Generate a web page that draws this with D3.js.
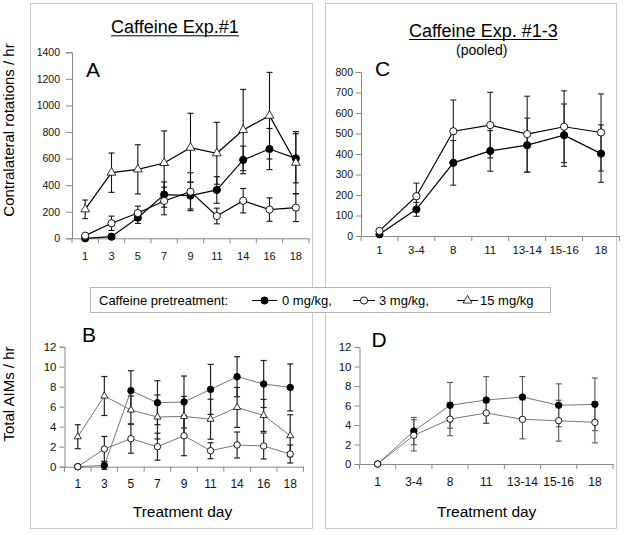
<!DOCTYPE html>
<html><head><meta charset="utf-8">
<script src="https://cdn.jsdelivr.net/npm/d3@7/dist/d3.min.js"></script>
<style>
html,body{margin:0;padding:0;background:#fff;}
svg{display:block;font-family:"Liberation Sans",Arial,sans-serif;}
</style></head>
<body>
<svg id="chart" width="624" height="535"></svg>
<script>
// ---------- data ----------
const daysA = ["1","3","5","7","9","11","14","16","18"];
const daysC = ["1","3-4","8","11","13-14","15-16","18"];

// Panel A: contralateral rotations / hr (Exp #1)
const A_0mg   = [0, 12, 155, 329, 321, 364, 590, 672, 602];
const A_0err  = [0, 8, 43, 95, 100, 100, 104, 155, 185];
const A_3mg   = [20, 113, 190, 281, 351, 168, 283, 216, 231];
const A_3err  = [8, 54, 52, 104, 143, 59, 92, 88, 105];
const A_15mg  = [218, 494, 519, 567, 682, 640, 815, 923, 569];
const A_15err = [70, 148, 185, 241, 259, 233, 306, 326, 234];

// Panel B: total AIMs / hr (Exp #1)
const B_0mg   = [0, 0.13, 7.6, 6.4, 6.47, 7.73, 9.0, 8.27, 7.93];
const B_0err  = [0, 0.4, 2.0, 2.2, 2.6, 2.5, 2.0, 2.35, 2.35];
const B_3mg   = [0, 1.77, 2.8, 2.0, 3.1, 1.6, 2.17, 2.07, 1.27];
const B_3err  = [0, 1.25, 1.45, 1.35, 2.0, 0.8, 1.3, 1.3, 0.9];
const B_15mg  = [3.0, 7.07, 5.67, 4.97, 5.03, 4.75, 5.93, 5.13, 3.1];
const B_15err = [1.2, 1.95, 1.4, 2.2, 2.0, 2.0, 2.0, 1.6, 2.1];

// Panel C: contralateral rotations / hr (pooled)
const C_0mg  = [8, 130, 357, 415, 443, 492, 402];
const C_0err = [5, 34, 109, 99, 132, 152, 140];
const C_3mg  = [25, 194, 511, 541, 497, 533, 505];
const C_3err = [10, 64, 152, 160, 185, 175, 188];

// Panel D: total AIMs / hr (pooled)
const D_0mg  = [0, 3.38, 6.02, 6.56, 6.87, 6.02, 6.12];
const D_0err = [0, 1.4, 2.35, 2.4, 2.1, 2.2, 2.7];
const D_3mg  = [0, 2.94, 4.6, 5.23, 4.58, 4.44, 4.27];
const D_3err = [0, 1.6, 1.7, 1.05, 2.0, 2.1, 2.1];

const ticksA = [0,200,400,600,800,1000,1200,1400];
const ticksC = [0,100,200,300,400,500,600,700,800];
const ticksB = [0,2,4,6,8,10,12];

const legendLabels = ["0 mg/kg,", "3 mg/kg,", "15 mg/kg"];

// ---------- drawing ----------
const svg = d3.select("#chart");
svg.append("rect").attr("width",624).attr("height",535).attr("fill","#fff");

// panel frames
svg.append("rect").attr("x",30.5).attr("y",3.5).attr("width",282).attr("height",525)
  .attr("fill","none").attr("stroke","#c8c8c8");
svg.append("rect").attr("x",325.5).attr("y",3.5).attr("width",291).attr("height",525)
  .attr("fill","none").attr("stroke","#c8c8c8");

function panel(cfg){
  const g = svg.append("g");
  const x = d3.scaleBand().domain(cfg.cats).range(cfg.xr).padding(0);
  const y = d3.scaleLinear().domain([0, cfg.ymax]).range(cfg.yr);
  // y axis
  const ya = g.append("g").attr("transform",`translate(${cfg.xr[0]},0)`)
    .call(d3.axisLeft(y).tickValues(cfg.yticks).tickSize(cfg.ytick).tickPadding(cfg.ypad).tickFormat(d3.format("d")));
  ya.select(".domain").attr("stroke","#888");
  ya.selectAll(".tick line").attr("stroke","#888");
  ya.selectAll("text").attr("font-size",cfg.yfs).attr("fill","#111")
    .attr("font-family","'Liberation Sans',Arial,sans-serif");
  // x axis
  const xa = g.append("g").attr("transform",`translate(0,${cfg.yr[0]})`)
    .call(d3.axisBottom(x).tickSize(0).tickPadding(cfg.xpad).tickSizeOuter(0));
  xa.select(".domain").attr("stroke","#888");
  xa.selectAll("text").attr("font-size",cfg.xfs).attr("fill","#111")
    .attr("font-family","'Liberation Sans',Arial,sans-serif");
  const bounds = cfg.cats.map(c=>x(c)).concat([x.range()[1]]);
  g.selectAll(".xt").data(bounds).enter().append("line")
    .attr("x1",d=>d).attr("x2",d=>d).attr("y1",cfg.yr[0]).attr("y2",cfg.yr[0]+5)
    .attr("stroke","#888");
  const cx = c => x(c) + x.bandwidth()/2;
  // series
  cfg.series.forEach(s=>{
    const pts = cfg.cats.map((c,i)=>({c, v:s.v[i], e:s.e[i]}));
    const eb = g.append("g").attr("stroke",cfg.errColor).attr("stroke-width",cfg.errW);
    pts.forEach(p=>{
      if(p.e<=0) return;
      const xx = cx(p.c);
      eb.append("line").attr("x1",xx).attr("x2",xx).attr("y1",y(p.v+p.e)).attr("y2",y(Math.max(0,p.v-p.e)));
      eb.append("line").attr("x1",xx-3).attr("x2",xx+3).attr("y1",y(p.v+p.e)).attr("y2",y(p.v+p.e));
      eb.append("line").attr("x1",xx-3).attr("x2",xx+3).attr("y1",y(p.v-p.e)).attr("y2",y(p.v-p.e));
    });
  });
  cfg.series.forEach(s=>{
    const pts = cfg.cats.map((c,i)=>({c, v:s.v[i]}));
    g.append("path").datum(pts)
      .attr("d", d3.line().x(d=>cx(d.c)).y(d=>y(d.v)))
      .attr("fill","none").attr("stroke",cfg.lineColor).attr("stroke-width",cfg.lineW);
  });
  cfg.series.forEach(s=>{
    const pts = cfg.cats.map((c,i)=>({c, v:s.v[i]}));
    pts.forEach(p=>marker(g, s.m, cx(p.c), y(p.v), cfg.mr, cfg.tr));
  });
  g.append("text").attr("x",cfg.letter[1]).attr("y",cfg.letter[2]).text(cfg.letter[0])
    .attr("font-size",21).attr("fill","#000");
}

function marker(g, type, x, y, r, tr){
  if(type==="filled"){
    g.append("circle").attr("cx",x).attr("cy",y).attr("r",r).attr("fill","#000").attr("stroke","#000");
  } else if(type==="open"){
    g.append("circle").attr("cx",x).attr("cy",y).attr("r",r).attr("fill","#fff").attr("stroke","#000").attr("stroke-width",0.9);
  } else {
    const t = tr || r;
    g.append("path").attr("d", d3.symbol().type(d3.symbolTriangle).size(t*t*2.6)())
      .attr("transform",`translate(${x},${y})`)
      .attr("fill","#fff").attr("stroke","#000").attr("stroke-width",0.8);
  }
}

panel({cats:daysA, xr:[72,309], ymax:1400, yr:[238.3,52.3], yticks:ticksA,
  yfs:10.5, xfs:11, xpad:13.5, ytick:6, ypad:6,
  series:[{v:A_0mg,e:A_0err,m:"filled"},{v:A_3mg,e:A_3err,m:"open"},{v:A_15mg,e:A_15err,m:"tri"}],
  lineColor:"#000", lineW:1.2, errColor:"#111", errW:1.1, mr:3.6, tr:3.6, letter:["A",86,76.7]});

panel({cats:daysA, xr:[64.5,303.5], ymax:12, yr:[466.7,346.7], yticks:ticksB,
  yfs:11.5, xfs:12, xpad:13, ytick:5, ypad:3,
  series:[{v:B_0mg,e:B_0err,m:"filled"},{v:B_3mg,e:B_3err,m:"open"},{v:B_15mg,e:B_15err,m:"tri"}],
  lineColor:"#777", lineW:1, errColor:"#222", errW:1.2, mr:3.2, tr:2.9, letter:["B",82,341.7]});

panel({cats:daysC, xr:[361,619.5], ymax:800, yr:[236,72], yticks:ticksC,
  yfs:10.5, xfs:11.5, xpad:10, ytick:5, ypad:3,
  series:[{v:C_0mg,e:C_0err,m:"filled"},{v:C_3mg,e:C_3err,m:"open"}],
  lineColor:"#000", lineW:1.2, errColor:"#222", errW:1.1, mr:3.6, letter:["C",375,76]});

panel({cats:daysC, xr:[359.5,613], ymax:12, yr:[464,347], yticks:ticksB,
  yfs:11.5, xfs:12, xpad:13, ytick:5, ypad:3,
  series:[{v:D_0mg,e:D_0err,m:"filled"},{v:D_3mg,e:D_3err,m:"open"}],
  lineColor:"#777", lineW:1, errColor:"#555", errW:1.1, mr:3.2, letter:["D",371.5,346.7]});

// titles
function title(txt, cx, by, fs, underline){
  const t = svg.append("text").attr("x",cx).attr("y",by).attr("text-anchor","middle")
    .attr("font-size",fs).attr("fill","#000").text(txt);
  if(underline){
    const w = t.node().getComputedTextLength();
    svg.append("line").attr("x1",cx-w/2).attr("x2",cx+w/2).attr("y1",by+2.5).attr("y2",by+2.5)
      .attr("stroke","#000").attr("stroke-width",1);
  }
}
title("Caffeine Exp.#1", 175, 33.3, 18, true);
title("Caffeine Exp. #1-3", 483.3, 37, 18, true);
title("(pooled)", 481.7, 55, 14, false);
title("Treatment day", 182.5, 517, 15.5, false);
title("Treatment day", 486.7, 516.7, 15.5, false);

svg.append("text").attr("transform","translate(14,130) rotate(-90)").attr("text-anchor","middle")
  .attr("font-size",15).attr("fill","#000").text("Contralateral rotations / hr");
svg.append("text").attr("transform","translate(14,394) rotate(-90)").attr("text-anchor","middle")
  .attr("font-size",15).attr("fill","#000").text("Total AIMs / hr");

// legend
const lg = svg.append("g");
lg.append("rect").attr("x",90.5).attr("y",287.5).attr("width",460).attr("height",25)
  .attr("fill","#fff").attr("stroke","#b4b4b4");
lg.append("text").attr("x",99).attr("y",305).attr("font-size",13).attr("fill","#000").text("Caffeine pretreatment:");
const legItems = [
  {m:"filled", x1:252, x2:277, tx:282},
  {m:"open", x1:353, x2:375, tx:379},
  {m:"tri", x1:457, x2:478, tx:480}
];
legItems.forEach((it,i)=>{
  lg.append("line").attr("x1",it.x1).attr("x2",it.x2).attr("y1",300.5).attr("y2",300.5).attr("stroke","#000").attr("stroke-width",1);
  marker(lg, it.m, (it.x1+it.x2)/2, 300.5, 3.6, 3.6);
  lg.append("text").attr("x",it.tx).attr("y",305).attr("font-size",13).attr("fill","#000").text(legendLabels[i]);
});
</script>
</body></html>
